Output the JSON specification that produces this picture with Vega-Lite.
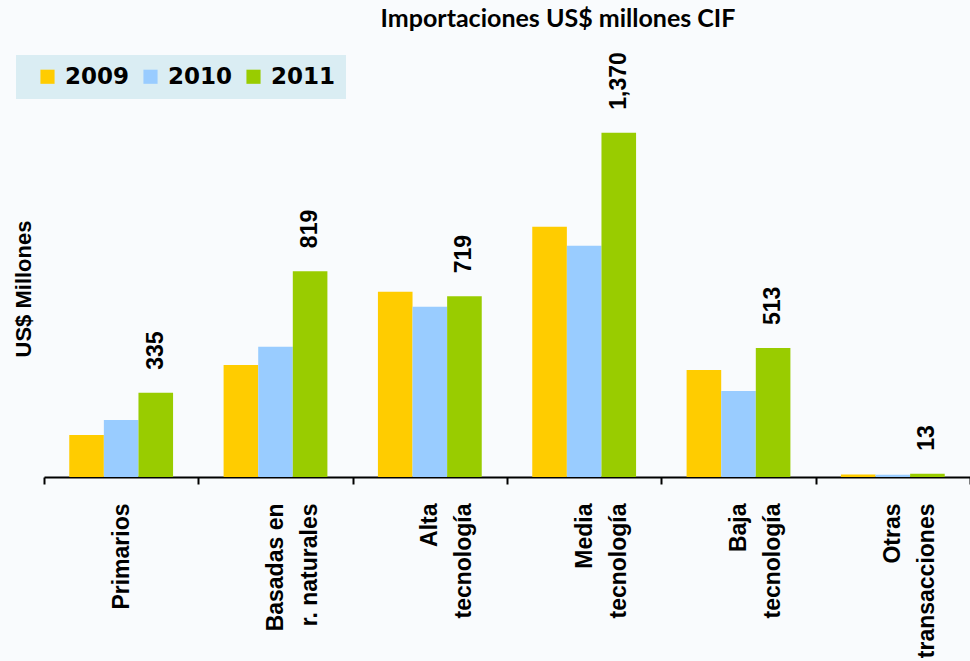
{
  "$schema": "https://vega.github.io/schema/vega-lite/v6.json",
  "width": 926,
  "height": 377,
  "autosize": {"type": "none"},
  "padding": {"left": 44, "top": 100, "right": 0, "bottom": 184},
  "background": "#f9fbfd",
  "view": {"stroke": null},
  "title": {
    "text": "Importaciones US$ millones CIF",
    "font": "Lato",
    "fontSize": 25,
    "fontWeight": "bold",
    "color": "#000000",
    "anchor": "middle",
    "frame": "group",
    "dx": 51,
    "dy": 0,
    "offset": 0,
    "baseline": "alphabetic"
  },
  "data": {
    "values": [
      {"categoria": "Primarios", "anio": "2009", "valor": 167},
      {"categoria": "Primarios", "anio": "2010", "valor": 227},
      {"categoria": "Primarios", "anio": "2011", "valor": 335},
      {"categoria": "Basadas en|r. naturales", "anio": "2009", "valor": 446},
      {"categoria": "Basadas en|r. naturales", "anio": "2010", "valor": 518},
      {"categoria": "Basadas en|r. naturales", "anio": "2011", "valor": 819},
      {"categoria": "Alta|tecnología", "anio": "2009", "valor": 737},
      {"categoria": "Alta|tecnología", "anio": "2010", "valor": 677},
      {"categoria": "Alta|tecnología", "anio": "2011", "valor": 719},
      {"categoria": "Media|tecnología", "anio": "2009", "valor": 996},
      {"categoria": "Media|tecnología", "anio": "2010", "valor": 920},
      {"categoria": "Media|tecnología", "anio": "2011", "valor": 1370},
      {"categoria": "Baja|tecnología", "anio": "2009", "valor": 426},
      {"categoria": "Baja|tecnología", "anio": "2010", "valor": 342},
      {"categoria": "Baja|tecnología", "anio": "2011", "valor": 513},
      {"categoria": "Otras|transacciones", "anio": "2009", "valor": 10},
      {"categoria": "Otras|transacciones", "anio": "2010", "valor": 9},
      {"categoria": "Otras|transacciones", "anio": "2011", "valor": 13}
    ]
  },
  "encoding": {
    "x": {
      "field": "categoria",
      "type": "nominal",
      "sort": null,
      "scale": {"paddingInner": 0, "paddingOuter": 0},
      "axis": {
        "title": null,
        "labelExpr": "split(datum.label, '|')",
        "labelAngle": 270,
        "labelAlign": "right",
        "labelBaseline": "middle",
        "labelFont": "Liberation Sans",
        "labelFontSize": 23,
        "labelFontWeight": "bold",
        "labelColor": "#000000",
        "labelLineHeight": 34,
        "labelPadding": 19,
        "labelLimit": 400,
        "tickBand": "extent",
        "tickSize": 7,
        "tickWidth": 2,
        "tickColor": "#000000",
        "domainColor": "#000000",
        "domainWidth": 2,
        "grid": false
      }
    },
    "y": {
      "field": "valor",
      "type": "quantitative",
      "scale": {"domain": [0, 1500], "nice": false},
      "axis": {
        "title": "US$ Millones",
        "titleFont": "Liberation Sans",
        "titleFontSize": 22,
        "titleFontWeight": "bold",
        "titleColor": "#000000",
        "titlePadding": 9,
        "labels": false,
        "ticks": false,
        "domain": false,
        "grid": false
      }
    }
  },
  "layer": [
    {
      "mark": {"type": "bar"},
      "encoding": {
        "xOffset": {
          "field": "anio",
          "type": "nominal",
          "scale": {"paddingInner": 0, "paddingOuter": 0.73}
        },
        "color": {
          "field": "anio",
          "type": "nominal",
          "scale": {"domain": ["2009", "2010", "2011"], "range": ["#FFCC00", "#99CCFF", "#99CC00"]},
          "legend": {
            "title": " ",
            "titleOrient": "left",
            "titlePadding": 10,
            "orient": "none",
            "legendX": -28,
            "legendY": -45,
            "direction": "horizontal",
            "fillColor": "#DAEDF3",
            "padding": 10,
            "symbolType": "square",
            "symbolSize": 200,
            "symbolStrokeWidth": 0,
            "labelFont": "DejaVu Sans",
            "labelFontSize": 23,
            "labelFontWeight": "bold",
            "labelColor": "#000000",
            "labelOffset": 6,
            "columnPadding": 9
          }
        }
      }
    },
    {
      "transform": [{"filter": "datum.anio === '2011'"}],
      "mark": {
        "type": "text",
        "angle": 270,
        "align": "left",
        "baseline": "middle",
        "dx": 23,
        "font": "Liberation Sans",
        "fontSize": 23,
        "fontWeight": "bold",
        "color": "#000000"
      },
      "encoding": {
        "xOffset": {"field": "anio", "type": "nominal"},
        "text": {"field": "valor", "type": "quantitative", "format": ","}
      }
    }
  ]
}
